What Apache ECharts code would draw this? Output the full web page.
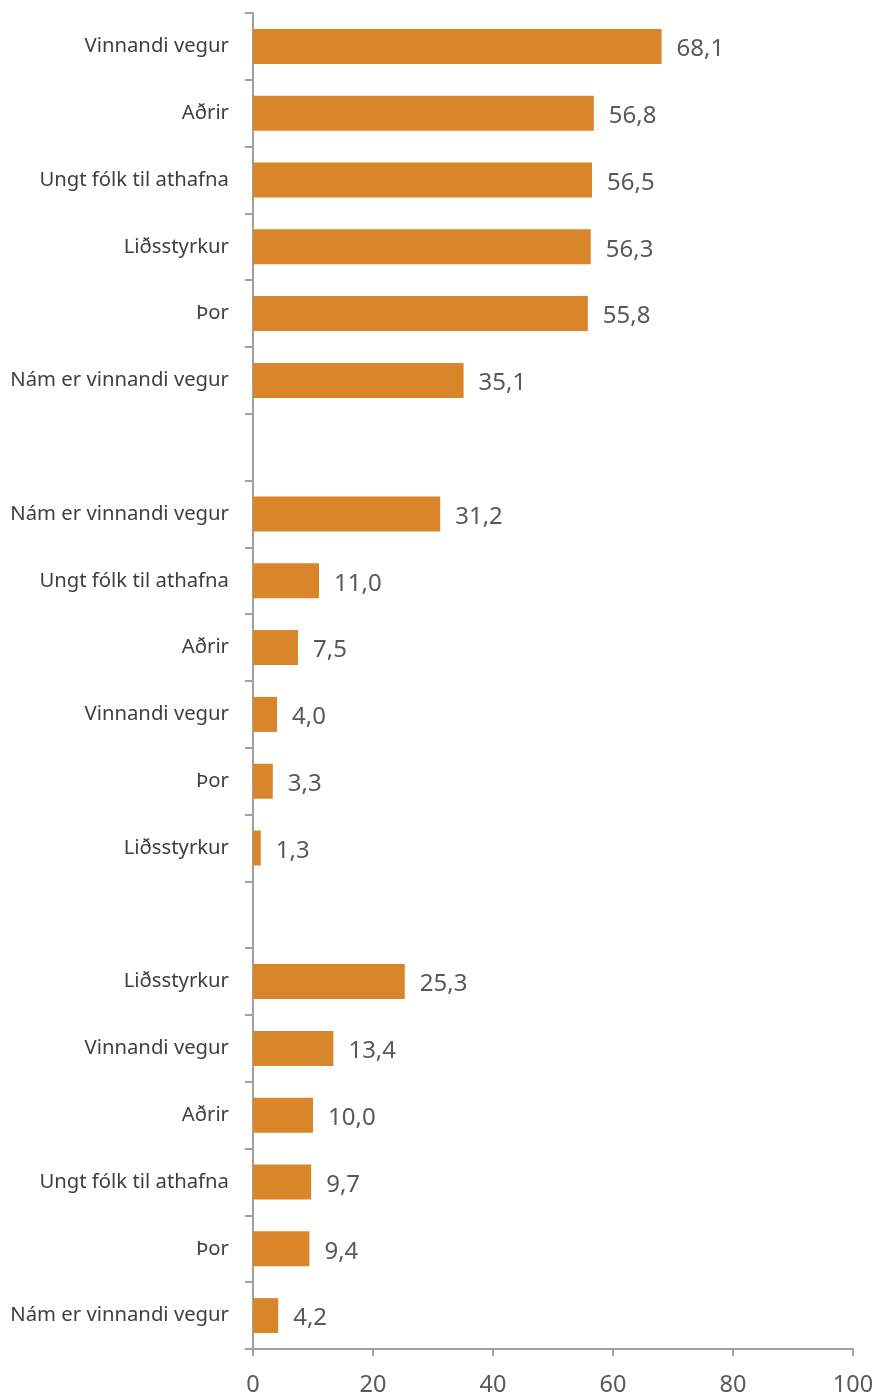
<!DOCTYPE html>
<html>
<head>
<meta charset="utf-8">
<script src="https://cdn.jsdelivr.net/npm/echarts@6/dist/echarts.min.js"></script>
<style>
html,body{margin:0;padding:0;background:#fff;}
#c{width:878px;height:1397px;}
</style>
</head>
<body>
<div id="c"></div>
<script>
const categories = [
  'Vinnandi vegur','Aðrir','Ungt fólk til athafna','Liðsstyrkur','Þor','Nám er vinnandi vegur',
  '',
  'Nám er vinnandi vegur','Ungt fólk til athafna','Aðrir','Vinnandi vegur','Þor','Liðsstyrkur',
  '',
  'Liðsstyrkur','Vinnandi vegur','Aðrir','Ungt fólk til athafna','Þor','Nám er vinnandi vegur'
];
const values = [
  68.1, 56.8, 56.5, 56.3, 55.8, 35.1,
  null,
  31.2, 11.0, 7.5, 4.0, 3.3, 1.3,
  null,
  25.3, 13.4, 10.0, 9.7, 9.4, 4.2
];
const xTicks = [0, 20, 40, 60, 80, 100];

const chart = echarts.init(document.getElementById('c'), null, {renderer: 'canvas'});
chart.setOption({
  animation: false,
  backgroundColor: '#ffffff',
  grid: {left: 253, right: 25, top: 13, bottom: 47, containLabel: false},
  xAxis: {
    type: 'value',
    min: xTicks[0], max: xTicks[xTicks.length - 1], interval: 20,
    axisLine: {show: true, lineStyle: {color: '#a0a0a0', width: 2}},
    axisTick: {show: true, length: 7, lineStyle: {color: '#a0a0a0', width: 2}},
    splitLine: {show: false},
    axisLabel: {color: '#595959', fontSize: 23.5, fontFamily: 'Noto Sans', margin: 24}
  },
  yAxis: {
    type: 'category',
    inverse: true,
    data: categories,
    axisLine: {show: true, lineStyle: {color: '#a0a0a0', width: 2}},
    axisTick: {show: true, length: 8, lineStyle: {color: '#a0a0a0', width: 2}},
    axisLabel: {color: '#404040', fontSize: 20.3, fontFamily: 'Noto Sans', margin: 24, interval: 0, padding: [7, 0, 0, 0]}
  },
  series: [{
    type: 'bar',
    data: values,
    barWidth: 35,
    itemStyle: {color: '#D9862A'},
    label: {
      show: true,
      position: 'right',
      distance: 15,
      offset: [0, 3],
      color: '#595959',
      fontSize: 24,
      fontFamily: 'Noto Sans',
      formatter: p => p.value == null ? '' : p.value.toFixed(1).replace('.', ',')
    }
  }]
});
</script>
</body>
</html>
